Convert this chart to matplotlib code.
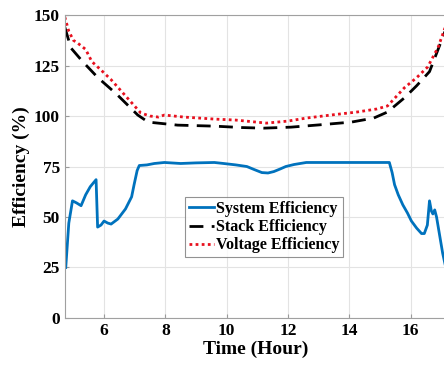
import numpy as np
import matplotlib.pyplot as plt

plt.rcParams["font.family"] = ["Liberation Serif", "DejaVu Serif"]
plt.rcParams["font.weight"] = "bold"

# System efficiency (%)
sys_t = [4.75, 4.85, 4.97, 5.1, 5.25, 5.4, 5.55, 5.74, 5.79, 5.9, 6.0, 6.12,
         6.23, 6.45, 6.7, 6.9, 6.98, 7.08, 7.15, 7.4, 7.64, 7.97, 8.5, 9.0,
         9.6, 9.9, 10.3, 10.66, 10.9, 11.15, 11.35, 11.54, 11.75, 11.93,
         12.2, 12.6, 13.5, 14.5, 15.31, 15.4, 15.48, 15.6, 15.75, 15.9,
         16.03, 16.2, 16.36, 16.45, 16.55, 16.62, 16.68, 16.73, 16.79,
         16.85, 16.95, 17.05, 17.18]
sys_eff = [25, 47, 58, 57, 55.6, 61, 65, 68.5, 45, 46, 48, 47,
           46.5, 49, 54, 60, 66, 73, 75.5, 75.8, 76.5, 77, 76.5, 76.8,
           77, 76.5, 75.8, 75, 73.5, 72, 71.8, 72.5, 73.8, 75,
           76, 77, 77, 77, 77, 72, 66, 61, 56, 52,
           48, 44.5, 41.8, 41.8, 46, 58, 53, 51.5, 53.5,
           50, 41, 32, 23]

# Stack efficiency (%)
stk_t = [4.72, 4.92, 5.3, 5.8, 6.4, 7.1, 7.44, 8.4, 9.6, 10.5, 11.2, 12.1,
         13.0, 14.07, 14.8, 15.25, 15.8, 16.2, 16.62, 16.9, 17.18]
stk_eff = [144, 133.7, 127, 119, 111, 100.5, 97, 95.5, 95, 94.3, 94, 94.5,
           95.6, 97, 99, 102, 109, 115, 122, 133, 144]

# Voltage efficiency (%)
vol_t = [4.72, 4.85, 5.0, 5.15, 5.4, 5.6, 5.9, 6.23, 6.7, 7.2, 7.5, 7.77,
         7.97, 8.6, 9.6, 10.3, 11.3, 12.0, 12.6, 13.4, 14.26, 14.9, 15.25,
         15.8, 16.2, 16.56, 16.9, 17.18]
vol_eff = [149, 142, 137.5, 136, 133, 127, 122.8, 118, 110, 101.5, 100, 99.5,
           100.5, 99.5, 98.5, 98, 96.5, 97.5, 99, 100.5, 102, 103.5, 105,
           114, 119, 124.3, 134, 146]

fig = plt.figure(figsize=(4.44, 3.68), dpi=100)
ax = fig.add_axes([0.146, 0.136, 0.86, 0.823])

ax.plot(sys_t, sys_eff, color="#0072BD", lw=2.0, label="System Efficiency")
ax.plot(stk_t, stk_eff, color="black", lw=2.0, ls=(0, (5, 3)),
        label="Stack Efficiency")
ax.plot(vol_t, vol_eff, color="#E8101E", lw=2.0, ls=(0, (1, 1.2)),
        label="Voltage Efficiency")

ax.set_xlim(4.72, 17.18)
ax.set_ylim(0, 150)
ax.set_xticks([6, 8, 10, 12, 14, 16])
ax.set_yticks([0, 25, 50, 75, 100, 125, 150])
ax.tick_params(labelsize=12.5, direction="in", length=3, color="#9a9a9a")
ax.grid(True, color="#e3e3e3", lw=0.8)
for side, sp in ax.spines.items():
    sp.set_color("#a0a0a0")
    sp.set_linewidth(0.8)
ax.spines["right"].set_visible(False)

ax.set_xlabel("Time (Hour)", fontsize=14, fontweight="bold", labelpad=1)
ax.set_ylabel("Efficiency (%)", fontsize=14, fontweight="bold", labelpad=3)

leg = ax.legend(loc="center", bbox_to_anchor=(0.522, 0.30), fontsize=11.5,
                frameon=True, fancybox=False, handlelength=1.6,
                handletextpad=0.1, borderpad=0.25, labelspacing=0.15,
                borderaxespad=0)
leg.get_frame().set_edgecolor("#777777")
leg.get_frame().set_linewidth(0.8)

fig.savefig("out.png", dpi=100)
